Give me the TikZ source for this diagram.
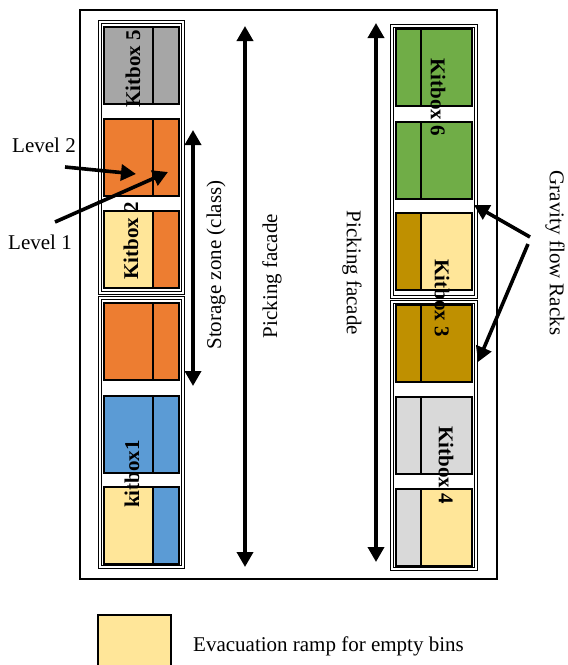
\documentclass[tikz,border=0pt]{standalone}
\usepackage{fontspec}
\setmainfont{Liberation Serif}
\usetikzlibrary{arrows.meta}
\definecolor{kgray}{HTML}{A6A6A6}
\definecolor{korange}{HTML}{ED7D31}
\definecolor{kyellow}{HTML}{FFE699}
\definecolor{kblue}{HTML}{5B9BD5}
\definecolor{kgreen}{HTML}{70AD47}
\definecolor{kgold}{HTML}{BF9000}
\definecolor{klgray}{HTML}{D9D9D9}
\tikzset{
  partbox/.style={draw=black, line width=2.5pt},
  grouprect/.style={draw=black, double=white, double distance=2pt, line width=0.9pt},
  bigarrow/.style={line width=3.6pt, {Triangle[length=15pt,width=16pt]}-{Triangle[length=15pt,width=16pt]}},
  onearrow/.style={line width=3.6pt, -{Triangle[length=15pt,width=16pt]}},
  lbl/.style={font=\fontsize{21}{24}\selectfont, inner sep=0pt},
  klbl/.style={font=\fontsize{21}{24}\selectfont\bfseries, inner sep=0pt},
}
% \lbox{top}{leftcolour}{rightcolour}  left column: wide left part, narrow right part
\newcommand{\lbox}[3]{%
  \fill[#2] (104,#1) rectangle (153,#1+77);
  \fill[#3] (153,#1) rectangle (179,#1+77);
  \draw[partbox] (104,#1) rectangle (179,#1+77);
  \draw[partbox] (153,#1) -- (153,#1+77);
}
% \rbox{top}{leftcolour}{rightcolour}  right column: narrow left part, wide right part
\newcommand{\rbox}[3]{%
  \fill[#2] (396,#1) rectangle (421,#1+77);
  \fill[#3] (421,#1) rectangle (472,#1+77);
  \draw[partbox] (396,#1) rectangle (472,#1+77);
  \draw[partbox] (421,#1) -- (421,#1+77);
}
\begin{document}
\begin{tikzpicture}[x=1pt,y=-1pt]
\useasboundingbox (0,0) rectangle (568,665);
% outer frame
\draw[line width=1.6pt] (80,10) rectangle (497,579);
% groups
\draw[grouprect] (99.8,21.8) rectangle (183,293);
\draw[grouprect] (99.8,298) rectangle (183,567);
\draw[grouprect] (392,25.8) rectangle (476,297);
\draw[grouprect] (392,302) rectangle (476,569);
% left boxes
\lbox{27}{kgray}{kgray}
\lbox{119}{korange}{korange}
\lbox{211}{kyellow}{korange}
\lbox{303}{korange}{korange}
\lbox{396}{kblue}{kblue}
\lbox{487}{kyellow}{kblue}
% right boxes
\rbox{29}{kgreen}{kgreen}
\rbox{122}{kgreen}{kgreen}
\rbox{213}{kgold}{kyellow}
\rbox{305}{kgold}{kgold}
\rbox{397}{klgray}{klgray}
\rbox{489}{klgray}{kyellow}
% kitbox labels
\node[klbl, rotate=90] (k5) at (133,69) {Kitbox 5};
\node[klbl, rotate=90] (k2) at (131,241) {Kitbox 2};
\node[klbl, rotate=90] (k1) at (132,474) {kitbox1};
\node[klbl, rotate=-90] (k6) at (438,97) {Kitbox 6};
\node[klbl, rotate=-90] (k3) at (442,298) {Kitbox 3};
\node[klbl, rotate=-90] (k4) at (446,465) {Kitbox 4};
% vertical arrows
\coordinate (sz1) at (193,130);
\coordinate (sz2) at (193,386);
\draw[bigarrow] (sz1) -- (sz2);
\node[lbl, rotate=90] (szl) at (216,265) {Storage zone (class)};
\coordinate (pf1) at (245,26);
\coordinate (pf2) at (245,567);
\draw[bigarrow] (pf1) -- (pf2);
\node[lbl, rotate=90] (pfl) at (272,276) {Picking facade};
\coordinate (pr1) at (376,23);
\coordinate (pr2) at (376,562);
\draw[bigarrow] (pr1) -- (pr2);
\node[lbl, rotate=-90] (prl) at (352,273) {Picking facade};
% gravity flow
\node[lbl, rotate=-90] (gfr) at (555,253) {Gravity flow Racks};
\coordinate (g1s) at (530,237);
\coordinate (g1e) at (474,205);
\coordinate (g2s) at (528,244);
\coordinate (g2e) at (478,362);
\draw[onearrow] (g1s) -- (g1e);
\draw[onearrow] (g2s) -- (g2e);
% levels
\node[lbl, anchor=west] (lv2) at (12,145) {Level 2};
\node[lbl, anchor=west] (lv1) at (8,242) {Level 1};
\coordinate (l2s) at (65,167);
\coordinate (l2e) at (136,174);
\coordinate (l1s) at (55,222);
\coordinate (l1e) at (168,172);
\draw[onearrow] (l2s) -- (l2e);
\draw[onearrow] (l1s) -- (l1e);
% legend
\draw[partbox, fill=kyellow] (98,615) rectangle (171,668);
\node[lbl, anchor=west] (leg) at (193,646) {Evacuation ramp for empty bins};
\end{tikzpicture}
\end{document}
